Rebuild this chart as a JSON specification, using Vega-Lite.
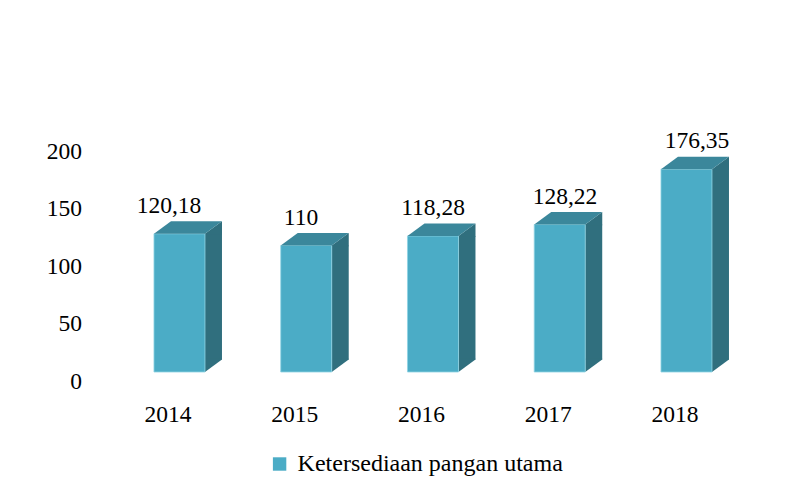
{
  "$schema": "https://vega.github.io/schema/vega-lite/v6.json",
  "autosize": {"type": "none"},
  "padding": {"left": 104.6, "top": 151, "right": 62.65, "bottom": 116},
  "width": 633.75,
  "height": 230,
  "background": "white",
  "config": {
    "view": {"stroke": null},
    "font": "Liberation Serif",
    "axis": {"labelFont": "Liberation Serif", "labelFontSize": 23.5, "labelColor": "#000000", "grid": false, "domain": false, "ticks": false, "title": null},
    "legend": {"labelFont": "Liberation Serif", "labelFontSize": 24, "labelColor": "#000000", "labelLimit": 0}
  },
  "data": {
    "values": [
      {"year": "2014", "value": 120.18, "label": "120,18", "series": "Ketersediaan pangan utama"},
      {"year": "2015", "value": 110, "label": "110", "series": "Ketersediaan pangan utama"},
      {"year": "2016", "value": 118.28, "label": "118,28", "series": "Ketersediaan pangan utama"},
      {"year": "2017", "value": 128.22, "label": "128,22", "series": "Ketersediaan pangan utama"},
      {"year": "2018", "value": 176.35, "label": "176,35", "series": "Ketersediaan pangan utama"}
    ]
  },
  "resolve": {"scale": {"x": "independent"}, "axis": {"x": "independent"}},
  "layer": [
    {
      "encoding": {
        "x": {"field": "year", "type": "nominal", "scale": {"paddingInner": 0, "paddingOuter": 0}, "axis": {"labelAngle": 0, "labelPadding": 21}},
        "y": {"field": "value", "type": "quantitative", "scale": {"domain": [0, 200], "nice": false}, "axis": {"values": [0, 50, 100, 150, 200], "labelPadding": 23}}
      },
      "layer": [
        {
          "mark": {"type": "bar", "width": 17, "xOffset": 45.5, "yOffset": -9, "y2Offset": -21.5, "color": "#306F7E"},
          "encoding": {"y2": {"datum": 0}}
        },
        {
          "mark": {"type": "point", "shape": "M25.5,0.8L25.5,0L42.5,-12.5L42.5,0.8Z", "size": 4, "filled": true, "opacity": 1, "color": "#306F7E", "xOffset": 11.5, "yOffset": -9}
        },
        {
          "mark": {"type": "point", "shape": "M25.5,-13.3L25.5,0L42.5,-12.5L42.5,-13.3Z", "size": 4, "filled": true, "opacity": 1, "color": "#306F7E", "xOffset": 11.5, "yOffset": -9},
          "encoding": {"y": {"datum": 0}}
        },
        {
          "mark": {"type": "bar", "width": 51, "xOffset": 11.5, "yOffset": -9, "y2Offset": -9, "stroke": "#8FD3E3", "strokeWidth": 0.8},
          "encoding": {
            "y2": {"datum": 0},
            "color": {"field": "series", "type": "nominal", "scale": {"range": ["#4BACC6"]}, "legend": {"title": null, "orient": "none", "legendX": 163, "legendY": 301, "symbolType": "square", "symbolSize": 180, "symbolStrokeWidth": 0, "labelOffset": 6}}
          }
        },
        {
          "mark": {"type": "point", "shape": "M-25.5,0L25.5,0L42.5,-12.5L-8.5,-12.5Z", "size": 4, "filled": true, "opacity": 1, "color": "#3B879B", "xOffset": 11.5, "yOffset": -9}
        }
      ]
    },
    {
      "mark": {"type": "text", "font": "Liberation Serif", "fontSize": 23.5, "color": "#000000", "baseline": "alphabetic", "dy": -30},
      "encoding": {
        "x": {"field": "year", "type": "nominal", "scale": {"type": "point", "padding": 0, "range": [64.4, 592.4]}, "axis": null},
        "y": {"field": "value", "type": "quantitative", "scale": {"domain": [0, 200], "nice": false}},
        "text": {"field": "label"}
      }
    }
  ]
}
